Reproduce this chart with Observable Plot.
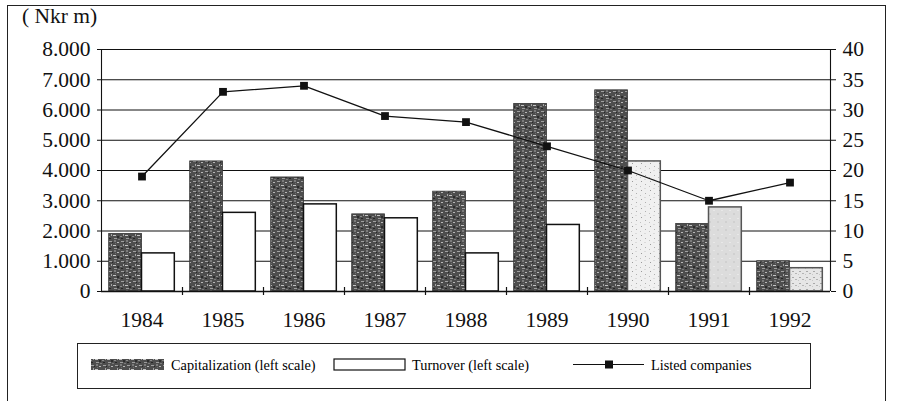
<!DOCTYPE html>
<html>
<head>
<meta charset="utf-8">
<script src="https://cdn.jsdelivr.net/npm/d3@7"></script>
<script src="https://cdn.jsdelivr.net/npm/@observablehq/plot@0.6"></script>
<style>
  html, body { margin: 0; padding: 0; background: #fff; }
  #page { position: relative; width: 897px; height: 401px; overflow: hidden; font-family: "Liberation Serif", "Times New Roman", serif; color: #111; }
  #frame { position: absolute; left: 7px; top: 5px; width: 879px; height: 420px; border: 1.5px solid #222; box-sizing: border-box; }
  #unit { position: absolute; left: 22px; top: 4px; font-size: 21.5px; }
  #chart { position: absolute; left: 0; top: 0; }
  #legend { position: absolute; left: 77px; top: 343px; width: 734px; height: 46px; border: 1.5px solid #222; box-sizing: border-box; }
  #legend svg { position: absolute; left: 0; top: 0; }
</style>
</head>
<body>
<div id="page">
  <div id="frame"></div>
  <div id="unit">( Nkr m)</div>
  <div id="chart"></div>
  <div id="legend"></div>
</div>
<script>
// ---- data ----
const years = [1984, 1985, 1986, 1987, 1988, 1989, 1990, 1991, 1992];
const capitalization = [1900, 4300, 3770, 2550, 3300, 6200, 6650, 2230, 1000]; // Nkr m, left scale
const turnover = [1260, 2600, 2880, 2420, 1260, 2200, 4300, 2780, 770];         // Nkr m, left scale
const listedCompanies = [19, 33, 34, 29, 28, 24, 20, 15, 18];                 // right scale
const leftTicks = [0, 1000, 2000, 3000, 4000, 5000, 6000, 7000, 8000];
const rightTicks = [0, 5, 10, 15, 20, 25, 30, 35, 40];
const legendLabels = ["Capitalization (left scale)", "Turnover (left scale)", "Listed companies"];

const rows = years.map((year, i) => ({
  year, cap: capitalization[i], turn: turnover[i], listed: listedCompanies[i]
}));

const leftMax = leftTicks[leftTicks.length - 1];
const rightMax = rightTicks[rightTicks.length - 1];
const k = leftMax / rightMax; // right scale -> left scale
const xDomain = [years[0] - 0.5, years[years.length - 1] + 0.5];
const bounds = years.slice(0, -1).map(y => y + 0.5);
const barW = 0.405;
const fmtLeft = d => d3.format(",")(d).replace(/,/g, ".");
const turnFill = d => d.year === 1990 ? "url(#stip1)" : d.year === 1991 ? "url(#stip2)" : d.year === 1992 ? "url(#stip3)" : "white";
const turnStroke = d => d.year >= 1990 ? "#555" : "#111";

const chart = Plot.plot({
  width: 897,
  height: 335,
  marginTop: 49,
  marginBottom: 44,
  marginLeft: 101,
  marginRight: 67,
  style: { fontFamily: "'Liberation Serif', 'Times New Roman', serif", fontSize: "21.5px", color: "#111", background: "transparent" },
  x: { type: "linear", domain: xDomain, axis: null },
  y: { type: "linear", domain: [0, leftMax], axis: null },
  marks: [
    Plot.ruleY(leftTicks, { stroke: "#111", strokeWidth: 1.1 }),
    Plot.ruleX(xDomain, { stroke: "#111", strokeWidth: 1.1 }),
    Plot.rectY(rows, { x1: d => d.year - barW, x2: d => d.year, y: "cap", fill: "url(#granite)", stroke: "#333", strokeWidth: 0.8 }),
    Plot.rectY(rows, { x1: d => d.year, x2: d => d.year + barW, y: "turn", fill: turnFill, stroke: turnStroke, strokeWidth: 1.5 }),
    Plot.line(rows, { x: "year", y: d => d.listed * k, stroke: "#111", strokeWidth: 1.3 }),
    Plot.dot(rows, { x: "year", y: d => d.listed * k, symbol: "square", r: 4.4, fill: "#111", stroke: "none" }),
    Plot.axisY(leftTicks, { anchor: "left", tickFormat: fmtLeft, tickSize: 4, tickPadding: 7, label: null, stroke: "#111" }),
    Plot.axisY(rightTicks.map(d => d * k), { anchor: "right", tickFormat: d => String(d / k), tickSize: 5, tickPadding: 7, label: null, stroke: "#111" }),
    Plot.axisX(years, { anchor: "bottom", tickSize: 0, tickPadding: 20, tickFormat: d => String(d), label: null }),
    Plot.axisX(bounds, { anchor: "bottom", tickSize: 4, tickFormat: () => "", label: null, stroke: "#111", strokeWidth: 1.2 }),
    Plot.ruleX(bounds, { y1: 0, y2: 0, insetTop: -4, stroke: "#111", strokeWidth: 1.2 }),
    Plot.ruleY([0], { stroke: "#111", strokeWidth: 1.4 })
  ]
});

const defs = `
<pattern id="granite" width="12" height="10" patternUnits="userSpaceOnUse">
  <rect width="12" height="10" fill="#4e4e4e"/>
  <rect x="1" y="1" width="3" height="1" fill="#a0a0a0"/>
  <rect x="6" y="0" width="2" height="2" fill="#7c7c7c"/>
  <rect x="9" y="2" width="2" height="1" fill="#b8b8b8"/>
  <rect x="3" y="4" width="1" height="2" fill="#a5a5a5"/>
  <rect x="5" y="5" width="3" height="1" fill="#c4c4c4"/>
  <rect x="0" y="6" width="2" height="1" fill="#8a8a8a"/>
  <rect x="9" y="6" width="2" height="2" fill="#2c2c2c"/>
  <rect x="1" y="8" width="2" height="1" fill="#262626"/>
  <rect x="6" y="8" width="3" height="1" fill="#9c9c9c"/>
  <rect x="10" y="9" width="2" height="1" fill="#7a7a7a"/>
  <rect x="4" y="2" width="1" height="1" fill="#2a2a2a"/>
  <rect x="7" y="3" width="1" height="1" fill="#707070"/>
</pattern>
<pattern id="stip1" width="9" height="9" patternUnits="userSpaceOnUse">
  <rect width="9" height="9" fill="#f0f0f0"/>
  <rect x="2" y="1" width="1" height="1" fill="#9a9a9a"/>
  <rect x="6" y="4" width="1" height="1" fill="#b0b0b0"/>
  <rect x="1" y="6" width="1" height="1" fill="#c0c0c0"/>
  <rect x="5" y="8" width="2" height="1" fill="#dadada"/>
</pattern>
<pattern id="stip2" width="8" height="8" patternUnits="userSpaceOnUse">
  <rect width="8" height="8" fill="#dcdcdc"/>
  <rect x="1" y="2" width="2" height="1" fill="#e8e8e8"/>
  <rect x="5" y="5" width="2" height="2" fill="#d0d0d0"/>
</pattern>
<pattern id="stip3" width="7" height="6" patternUnits="userSpaceOnUse">
  <rect width="7" height="6" fill="#e6e6e6"/>
  <rect x="1" y="1" width="2" height="1" fill="#a8a8a8"/>
  <rect x="4" y="3" width="2" height="1" fill="#b4b4b4"/>
  <rect x="0" y="4" width="1" height="1" fill="#c8c8c8"/>
</pattern>`;
d3.select(chart).insert("defs", ":first-child").html(defs);
document.getElementById("chart").appendChild(chart);

// ---- legend ----
const lg = d3.select("#legend").append("svg").attr("width", 734).attr("height", 46)
  .style("font-family", "'Liberation Serif', 'Times New Roman', serif").style("font-size", "14.3px");
lg.append("rect").attr("x", 13).attr("y", 15).attr("width", 73).attr("height", 11).attr("fill", "url(#granite)");
lg.append("text").attr("x", 93).attr("y", 25.5).text(legendLabels[0]);
lg.append("rect").attr("x", 256).attr("y", 15).attr("width", 71).attr("height", 11).attr("fill", "white").attr("stroke", "#111").attr("stroke-width", 1.2);
lg.append("text").attr("x", 334).attr("y", 25.5).text(legendLabels[1]);
lg.append("line").attr("x1", 495).attr("x2", 566).attr("y1", 20.5).attr("y2", 20.5).attr("stroke", "#111").attr("stroke-width", 1.2);
lg.append("rect").attr("x", 527).attr("y", 16.5).attr("width", 8).attr("height", 8).attr("fill", "#111");
lg.append("text").attr("x", 573).attr("y", 25.5).text(legendLabels[2]);
</script>
</body>
</html>
